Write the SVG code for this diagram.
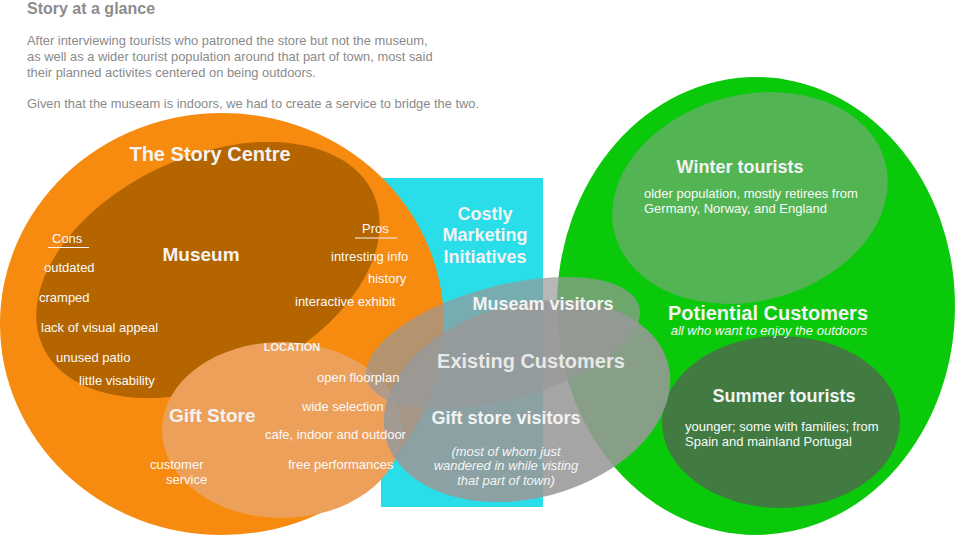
<svg xmlns="http://www.w3.org/2000/svg" width="955" height="537" viewBox="0 0 955 537">
<style>
text{font-family:"Liberation Sans",Arial,Helvetica,sans-serif;}
.hdr{font-size:16px;font-weight:bold;fill:#8c8c8c;}
.body{font-size:12.9px;fill:#8a8a8a;}
.t{font-size:13px;fill:#fafafa;}
.b{font-weight:bold;fill:#f3f3f3;}
.b18{font-size:18px;}
.b19{font-size:19px;}
.b20{font-size:20px;}
.i{font-size:13px;font-style:italic;fill:#f5f5f5;}
.m{text-anchor:middle;}
.ul{stroke:#f5f5f5;stroke-width:1.2;}
.gray1{fill:#989898;fill-opacity:0.7;}
.gray2{fill:#989898;fill-opacity:0.88;}
</style>
<rect width="955" height="537" fill="#ffffff"/>
<g id="intro">
<text class="hdr" x="27" y="14">Story at a glance</text>
<text class="body" x="27" y="45">After interviewing tourists who patroned the store but not the museum,</text>
<text class="body" x="27" y="61">as well as a wider tourist population around that part of town, most said</text>
<text class="body" x="27" y="77">their planned activites centered on being outdoors.</text>
<text class="body" x="27" y="108">Given that the museam is indoors, we had to create a service to bridge the two.</text>
</g>
<!-- shapes -->
<g id="marketing">
<rect x="381" y="178" width="162" height="329" fill="#29dde9"/>
</g>
<g id="story-centre">
<ellipse cx="222" cy="324" rx="222" ry="211" fill="#f68b10"/>
</g>
<g id="museum">
<ellipse cx="208" cy="270" rx="182" ry="113" transform="rotate(-25 208 270)" fill="#b46500"/>
</g>
<g id="gift-store">
<ellipse cx="282" cy="430" rx="120" ry="88" fill="#eda05a"/>
</g>
<g id="potential-customers">
<ellipse cx="756" cy="306" rx="199" ry="229" fill="#0ac80a"/>
</g>
<g id="winter-tourists">
<ellipse cx="750" cy="198" rx="140" ry="103" transform="rotate(-15 750 198)" fill="#52b452"/>
</g>
<g id="summer-tourists">
<ellipse cx="781" cy="422" rx="119" ry="86" fill="#417b41"/>
</g>
<g id="museam-visitors">
<ellipse class="gray1" cx="503" cy="343" rx="141" ry="57" transform="rotate(-15 503 343)"/>
</g>
<g id="existing-customers">
<ellipse class="gray2" cx="527" cy="401" rx="146" ry="97" transform="rotate(-15 527 401)"/>
</g>
<!-- labels -->
<g id="marketing-labels">
<text class="b b18 m" x="485" y="220">Costly</text>
<text class="b b18 m" x="485" y="241">Marketing</text>
<text class="b b18 m" x="485" y="263">Initiatives</text>
</g>
<g id="story-centre-labels">
<text class="b b20 m" x="210" y="161">The Story Centre</text>
</g>
<g id="museum-labels">
<text class="b b19 m" x="201" y="261">Museum</text>
<text class="t" x="52" y="243">Cons</text>
<line class="ul" x1="48" y1="247.5" x2="89" y2="247.5"/>
<text class="t" x="44" y="272">outdated</text>
<text class="t" x="39" y="302">cramped</text>
<text class="t" x="41" y="332">lack of visual appeal</text>
<text class="t" x="56" y="362">unused patio</text>
<text class="t" x="79" y="385">little visability</text>
<text class="t" x="362" y="233">Pros</text>
<line class="ul" x1="355" y1="238" x2="397" y2="238"/>
<text class="t" x="331" y="261">intresting info</text>
<text class="t" x="368" y="283">history</text>
<text class="t" x="295" y="306">interactive exhibit</text>
</g>
<g id="gift-store-labels">
<text class="b m" x="292" y="351" style="font-size:11px">LOCATION</text>
<text class="b b19" x="169" y="422">Gift Store</text>
<text class="t" x="317" y="382">open floorplan</text>
<text class="t" x="302" y="411">wide selection</text>
<text class="t" x="265" y="439">cafe, indoor and outdoor</text>
<text class="t" x="288" y="469">free performances</text>
<text class="t" x="150" y="469">customer</text>
<text class="t" x="166" y="484">service</text>
</g>
<g id="potential-customers-labels">
<text class="b b20 m" x="768" y="320">Potiential Customers</text>
<text class="i m" x="769" y="335">all who want to enjoy the outdoors</text>
</g>
<g id="winter-tourists-labels">
<text class="b b18 m" x="740" y="173">Winter tourists</text>
<text class="t" x="644" y="198">older population, mostly retirees from</text>
<text class="t" x="644" y="213">Germany, Norway, and England</text>
</g>
<g id="summer-tourists-labels">
<text class="b b18 m" x="784" y="402">Summer tourists</text>
<text class="t" x="685" y="431">younger; some with families; from</text>
<text class="t" x="685" y="446">Spain and mainland Portugal</text>
</g>
<g id="visitor-labels">
<text class="b b18 m" x="543" y="310">Museam visitors</text>
<text class="b b20 m" x="531" y="368" style="fill:#e8e8e8">Existing Customers</text>
<text class="b b18 m" x="506" y="424">Gift store visitors</text>
<text class="i m" x="506" y="456">(most of whom just</text>
<text class="i m" x="506" y="470">wandered in while visting</text>
<text class="i m" x="506" y="485">that part of town)</text>
</g>
<g id="connectors"/>
</svg>
